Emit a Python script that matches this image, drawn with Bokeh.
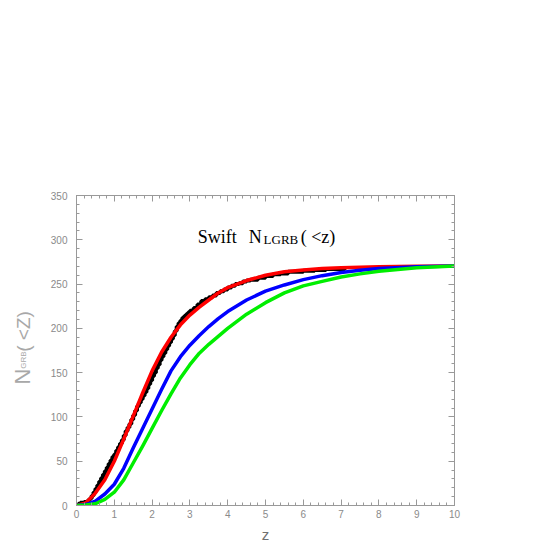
import math
from bokeh.plotting import figure
from bokeh.layouts import row
from bokeh.models import LinearAxis, SingleIntervalTicker, Label, Range1d, CustomJSTickFormatter
from bokeh.core.properties import value
from bokeh.embed import file_html
from bokeh.resources import INLINE

# ---- data ----
z_model = [0, 0.25, 0.5, 0.75, 1.0, 1.25, 1.5, 1.75, 2.0, 2.25, 2.5, 2.75, 3.0, 3.25,
           3.5, 3.75, 4.0, 4.5, 5.0, 5.5, 6.0, 6.5, 7.0, 7.5, 8.0, 9.0, 10.0]
n_red = [0, 3, 14, 29, 50, 75, 101, 127, 152, 173, 190, 204, 215, 224,
         232, 240, 246, 254, 260, 264, 266, 267.5, 268.5, 269, 269.5, 270, 270.5]
n_blue = [0, 1, 5, 13, 24, 42, 65, 87, 109, 131, 152, 168, 181, 192,
          202, 211, 219, 232, 242, 249, 255, 259.5, 263, 265.5, 267.5, 269.5, 270.5]
n_green = [0, 0.5, 2, 7, 15, 29, 48, 67, 87, 107, 126, 144, 159, 172,
           182, 191, 200, 216, 229, 240, 248, 253, 258, 261.5, 264.5, 268.5, 270.5]

z_obs = [0.00, 0.05, 0.10, 0.20, 0.30, 0.35, 0.40, 0.45, 0.50, 0.55, 0.60, 0.65, 0.70,
         0.75, 0.80, 0.85, 0.90, 0.95, 1.00, 1.05, 1.10, 1.15, 1.20, 1.25, 1.30, 1.35,
         1.40, 1.45, 1.50, 1.55, 1.60, 1.65, 1.70, 1.75, 1.80, 1.85, 1.90, 1.95, 2.00,
         2.05, 2.10, 2.15, 2.20, 2.25, 2.30, 2.35, 2.40, 2.45, 2.50, 2.55, 2.60, 2.65,
         2.70, 2.75, 2.80, 2.85, 2.90, 2.95, 3.00, 3.10, 3.20, 3.30, 3.40, 3.50, 3.60,
         3.70, 3.80, 3.90, 4.00, 4.10, 4.20, 4.30, 4.40, 4.50, 4.60, 4.80, 5.00, 5.20,
         5.40, 5.60, 5.80, 6.00, 6.30, 6.60, 7.10]
n_obs = [0, 2, 3, 4, 6, 8, 11, 15, 19, 23, 27, 31, 35,
         39, 43, 47, 51, 55, 58, 62, 66, 70, 74, 79, 84, 88,
         92, 97, 102, 107, 112, 116, 120, 124, 128, 132, 137, 141, 146,
         150, 155, 159, 164, 168, 172, 176, 180, 184, 188, 192, 197, 202,
         206, 209, 212, 214, 216, 218, 220, 223, 227, 231, 233, 235, 237,
         240, 242, 244, 246, 248, 250, 251, 253, 254, 255, 257, 259, 261,
         262, 264, 264, 265, 266, 267, 268]

x_major = 1
y_major = 50

ylabel_parts = ["N", "GRB", "( <Z)"]

GRAY = "#999999"
H = 543
LAB_W = 40
TOP = 195
FH = 310
BOT = H - TOP - FH

p = figure(frame_width=378, frame_height=FH,
           x_range=Range1d(0, 10), y_range=Range1d(0, 350),
           output_backend="svg", toolbar_location=None,
           min_border_left=76 - LAB_W, min_border_top=TOP,
           min_border_right=50, min_border_bottom=BOT)
p.xgrid.visible = False
p.ygrid.visible = False
p.outline_line_color = GRAY
p.background_fill_color = "white"
p.border_fill_color = "white"


def style(ax, labels=True):
    ax.axis_line_color = GRAY
    ax.major_tick_line_color = GRAY
    ax.minor_tick_line_color = GRAY
    ax.major_tick_in = 6
    ax.major_tick_out = 0
    ax.minor_tick_in = 3
    ax.minor_tick_out = 0
    ax.major_label_text_font = "Liberation Sans"
    ax.major_label_text_font_size = "10px"
    ax.major_label_text_color = "#8a8a8a"
    if not labels:
        ax.formatter = CustomJSTickFormatter(code="return ''")


p.xaxis.ticker = SingleIntervalTicker(interval=x_major, num_minor_ticks=5)
p.yaxis.ticker = SingleIntervalTicker(interval=y_major, num_minor_ticks=5)
style(p.xaxis[0])
style(p.yaxis[0])
p.xaxis.major_label_standoff = 4
p.yaxis.major_label_standoff = 9
p.xaxis.axis_label = "z"
p.xaxis.axis_label_text_font = "Liberation Sans"
p.xaxis.axis_label_text_font_size = "15px"
p.xaxis.axis_label_text_font_style = "normal"
p.xaxis.axis_label_text_color = "#707070"
p.xaxis.axis_label_standoff = 5

top = LinearAxis(ticker=SingleIntervalTicker(interval=x_major, num_minor_ticks=5))
style(top, labels=False)
p.add_layout(top, "above")
right = LinearAxis(ticker=SingleIntervalTicker(interval=y_major, num_minor_ticks=5))
style(right, labels=False)
p.add_layout(right, "right")

# curves
p.step(z_obs, n_obs, mode="after", line_color="black", line_width=4)
p.line(z_model, n_red, line_color="#ff0000", line_width=3.5, line_join="round")
p.line(z_model, n_blue, line_color="#0000ff", line_width=3.5, line_join="round")
p.line(z_model, n_green, line_color="#00ee00", line_width=3.5, line_join="round")

# title inside plot
serif = "Liberation Serif"
p.add_layout(Label(x=3.205, y=303.6, text="Swift", text_font=serif, text_font_size="18px",
                   text_color="black", text_baseline="alphabetic"))
p.add_layout(Label(x=4.56, y=303.6, text="N", text_font=serif, text_font_size="18px",
                   text_color="black", text_baseline="alphabetic"))
p.add_layout(Label(x=4.95, y=299.9, text="LGRB", text_font=serif, text_font_size="13px",
                   text_color="black", text_baseline="alphabetic"))
p.add_layout(Label(x=5.93, y=303.6, text="( <z)", text_font=serif, text_font_size="18px",
                   text_color="black", text_baseline="alphabetic"))

# narrow side figure (no axes) carrying the rotated y-axis title,
# its frame aligned with the main frame (same y range)
lab = figure(frame_width=LAB_W, frame_height=FH,
             x_range=Range1d(0, LAB_W), y_range=Range1d(0, 350),
             output_backend="svg", toolbar_location=None,
             min_border_left=0, min_border_right=0,
             min_border_top=TOP, min_border_bottom=BOT,
             x_axis_location=None, y_axis_location=None)
lab.grid.visible = False
lab.outline_line_color = None
lab.background_fill_color = "white"
lab.border_fill_color = "white"
ylab_col = "#a8a8a8"
sans = "Liberation Sans"
lab.text(x=[21.7], y=[145.6], text=[ylabel_parts[0]], angle=math.pi / 2,
         text_font=value(sans), text_font_size="22px", text_color=ylab_col,
         text_baseline="middle", text_align="center")
lab.text(x=[22.9], y=[164.3], text=[ylabel_parts[1]], angle=math.pi / 2,
         text_font=value(sans), text_font_size="8px", text_color=ylab_col,
         text_baseline="middle", text_align="center")
lab.text(x=[22.7], y=[196.5], text=[ylabel_parts[2]], angle=math.pi / 2,
         text_font=value(sans), text_font_size="19px", text_color=ylab_col,
         text_baseline="middle", text_align="center")

layout = row(lab, p, spacing=0)
open("out.html", "w").write(file_html(layout, INLINE))
